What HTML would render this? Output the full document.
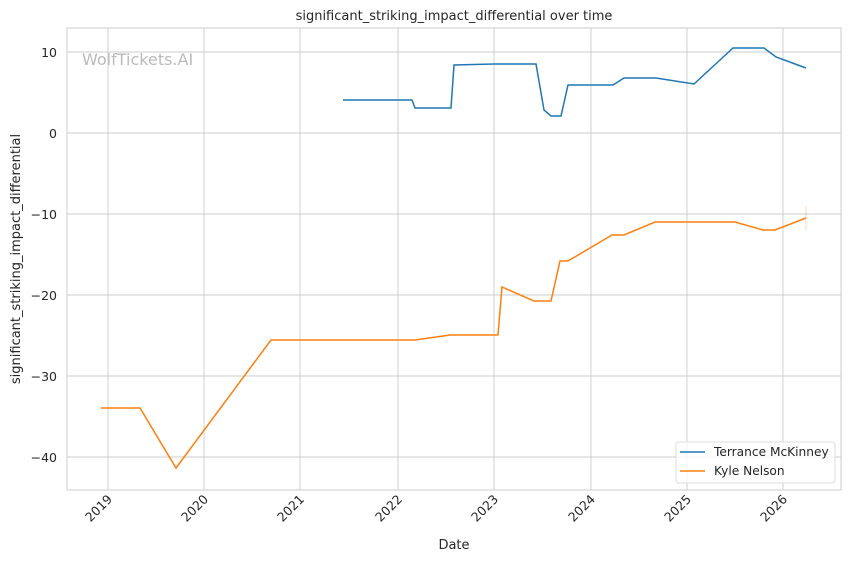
<!DOCTYPE html>
<html><head><meta charset="utf-8"><style>
body{margin:0;background:#fff;}
svg{display:block;font-family:"DejaVu Sans","Liberation Sans",sans-serif;}
</style></head><body>
<svg width="850" height="561" viewBox="0 0 850 561">
<rect width="850" height="561" fill="#fff"/>
<g stroke="#cccccc" stroke-width="0.9">
<line x1="108" y1="28" x2="108" y2="490"/><line x1="204" y1="28" x2="204" y2="490"/>
<line x1="300" y1="28" x2="300" y2="490"/><line x1="398" y1="28" x2="398" y2="490"/>
<line x1="494" y1="28" x2="494" y2="490"/><line x1="591" y1="28" x2="591" y2="490"/>
<line x1="687" y1="28" x2="687" y2="490"/><line x1="783" y1="28" x2="783" y2="490"/>
<line x1="67" y1="52" x2="841" y2="52"/><line x1="67" y1="133" x2="841" y2="133"/>
<line x1="67" y1="214" x2="841" y2="214"/><line x1="67" y1="295" x2="841" y2="295"/>
<line x1="67" y1="376" x2="841" y2="376"/><line x1="67" y1="457" x2="841" y2="457"/>
</g>
<rect x="67" y="28" width="774" height="462" fill="none" stroke="#cccccc" stroke-width="1"/>
<text x="82" y="65" font-size="16" fill="#bbbbbb">WolfTickets.AI</text>
<polyline fill="none" stroke="#1f77b4" stroke-width="1.5" points="343,100 412,100 415,108 451,108 454,65 494,64 536,64 544,110 551,116 561,116 568,85 613,85 624,78 656,78 694,84 733,48 764,48 776,57 806,68"/>
<polyline fill="none" stroke="#ff7f0e" stroke-width="1.5" points="101,408 140,408 176,468 271,340 415,340 450,335 498,335 502,287 534,301 551,301 560,261 568,261 612,235 624,235 655,222 735,222 763,230 775,230 806,218"/>
<line x1="806" y1="206" x2="806" y2="230" stroke="#ff7f0e" stroke-width="1" opacity="0.3"/>
<g font-size="12.5" fill="#262626" text-anchor="end">
<text x="57" y="57">10</text><text x="57" y="138">0</text><text x="57" y="219">−10</text>
<text x="57" y="300">−20</text><text x="57" y="381">−30</text><text x="57" y="462">−40</text>
</g>
<g font-size="12.5" fill="#262626" text-anchor="end">
<text transform="translate(113,500) rotate(-45)">2019</text>
<text transform="translate(209,500) rotate(-45)">2020</text>
<text transform="translate(305,500) rotate(-45)">2021</text>
<text transform="translate(403,500) rotate(-45)">2022</text>
<text transform="translate(499,500) rotate(-45)">2023</text>
<text transform="translate(596,500) rotate(-45)">2024</text>
<text transform="translate(692,500) rotate(-45)">2025</text>
<text transform="translate(788,500) rotate(-45)">2026</text>
</g>
<text x="454" y="549" font-size="13" fill="#262626" text-anchor="middle">Date</text>
<text transform="translate(20,259) rotate(-90)" font-size="13" fill="#262626" text-anchor="middle">significant_striking_impact_differential</text>
<text x="454" y="20" font-size="13" fill="#262626" text-anchor="middle">significant_striking_impact_differential over time</text>
<rect x="676" y="442" width="159" height="41" rx="3" fill="#fff" fill-opacity="0.8" stroke="#dddddd"/>
<line x1="680" y1="452" x2="705" y2="452" stroke="#1f77b4" stroke-width="1.5"/>
<line x1="680" y1="471" x2="705" y2="471" stroke="#ff7f0e" stroke-width="1.5"/>
<text x="714" y="456" font-size="12.2" fill="#262626">Terrance McKinney</text>
<text x="714" y="475" font-size="12.2" fill="#262626">Kyle Nelson</text>
</svg>
</body></html>
